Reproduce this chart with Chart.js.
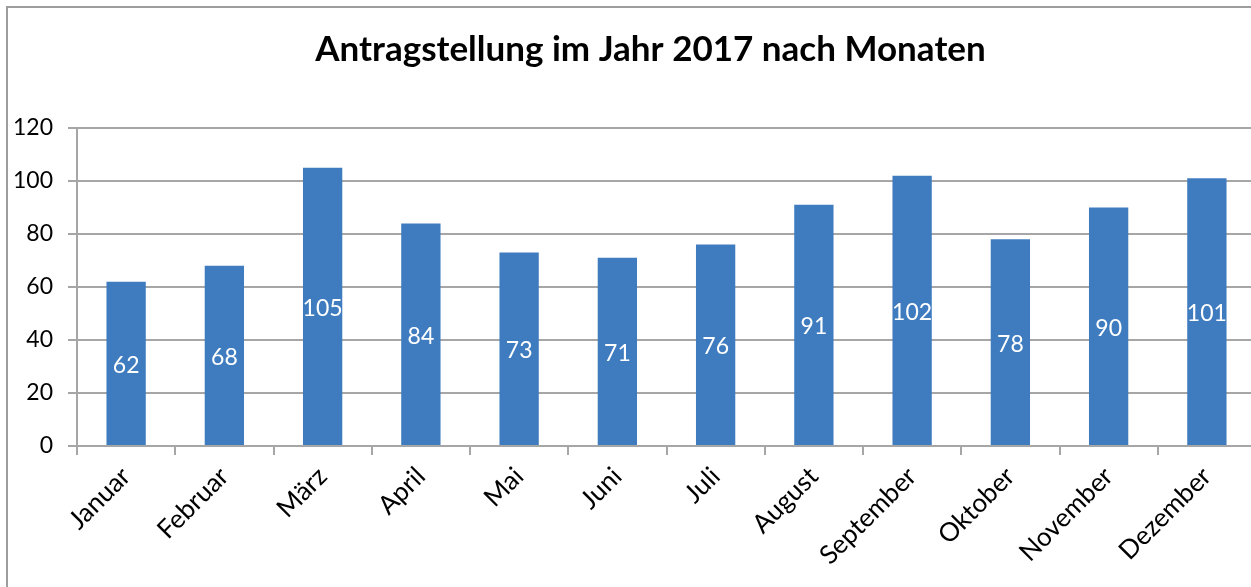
<!DOCTYPE html>
<html>
<head>
<meta charset="utf-8">
<script src="https://cdn.jsdelivr.net/npm/chart.js@4.4.1/dist/chart.umd.min.js"></script>
<style>
  html, body { margin: 0; padding: 0; background: #fff; overflow: hidden; }
  /* the original chart box runs a little past the right edge of the picture */
  #wrap { position: relative; width: 1256px; height: 587px; }
</style>
</head>
<body>
<div id="wrap"><canvas id="chart"></canvas></div>
<script>
const months = ['Januar', 'Februar', 'März', 'April', 'Mai', 'Juni', 'Juli',
  'August', 'September', 'Oktober', 'November', 'Dezember'];
const antraege = [62, 68, 105, 84, 73, 71, 76, 91, 102, 78, 90, 101];
const yTicks = [0, 20, 40, 60, 80, 100, 120];

const fontFamily = 'Lato, "Open Sans", sans-serif';
const gridColor = '#a6a6a6';

// grey frame on the left and top, like the cropped chart box
const framePlugin = {
  id: 'frame',
  beforeDraw(chart) {
    const ctx = chart.ctx;
    ctx.save();
    ctx.strokeStyle = '#9d9d9d';
    ctx.lineWidth = 2;
    ctx.beginPath();
    ctx.moveTo(7, chart.height);
    ctx.lineTo(7, 7);
    ctx.lineTo(chart.width, 7);
    ctx.stroke();
    ctx.restore();
  }
};

// white value labels centred inside each bar
const valueLabels = {
  id: 'valueLabels',
  afterDatasetsDraw(chart) {
    const ctx = chart.ctx;
    const meta = chart.getDatasetMeta(0);
    ctx.save();
    ctx.fillStyle = '#ffffff';
    ctx.font = '23px ' + fontFamily;
    ctx.textAlign = 'center';
    ctx.textBaseline = 'middle';
    meta.data.forEach((bar, i) => {
      const { x, y, base } = bar.getProps(['x', 'y', 'base'], true);
      ctx.fillText(String(antraege[i]), x, (y + base) / 2 + 2);
    });
    ctx.restore();
  }
};

new Chart(document.getElementById('chart'), {
  type: 'bar',
  data: {
    labels: months,
    datasets: [{
      data: antraege,
      backgroundColor: '#3f7cbf',
      borderWidth: 0,
      categoryPercentage: 1,
      barPercentage: 0.4
    }]
  },
  options: {
    responsive: true,
    maintainAspectRatio: false,
    animation: false,
    // left padding keeps the title centred like the original; y labels are mirrored back out
    layout: { padding: { left: 45, right: 0, top: 0, bottom: 0 } },
    plugins: {
      legend: { display: false },
      tooltip: { enabled: false },
      title: {
        display: true,
        text: 'Antragstellung im Jahr 2017 nach Monaten',
        color: '#000',
        font: { family: fontFamily, size: 35, weight: 'bold', lineHeight: 1.2 },
        padding: { top: 29, bottom: 57 }
      }
    },
    scales: {
      x: {
        afterFit(scale) { scale.height = 141; },
        grid: {
          display: true,
          offset: true,
          drawOnChartArea: false,
          color: gridColor,
          lineWidth: 2,
          tickLength: 9
        },
        border: { display: true, color: gridColor, width: 2 },
        ticks: {
          color: '#000',
          font: { family: fontFamily, size: 26 },
          minRotation: 45,
          maxRotation: 45,
          padding: 6
        }
      },
      y: {
        min: 0,
        max: 120,
        afterFit(scale) { scale.width = 32; },
        afterBuildTicks(scale) { scale.ticks = yTicks.map(v => ({ value: v })); },
        grid: { color: gridColor, lineWidth: 2, tickLength: 9 },
        border: { display: true, color: gridColor, width: 2 },
        ticks: {
          color: '#000',
          font: { family: fontFamily, size: 23 },
          mirror: true,
          crossAlign: 'far',
          padding: -64
        }
      }
    }
  },
  plugins: [framePlugin, valueLabels]
});
</script>
</body>
</html>
